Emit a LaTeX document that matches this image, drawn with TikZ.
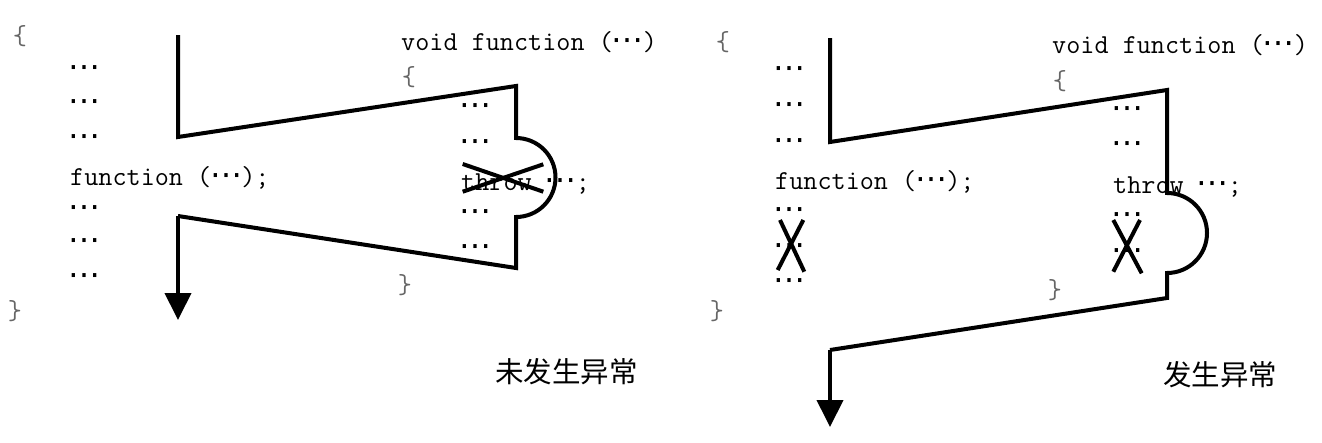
\documentclass[tikz,border=0pt]{standalone}
\usepackage{fontspec}
\newfontfamily\cjk{Noto Sans CJK SC}
\newfontfamily\dvs{DejaVu Sans}
\usetikzlibrary{arrows.meta}
\newcommand\elp{\makebox[30pt][c]{\dvs\fontsize{32}{32}\selectfont ⋯}}
\begin{document}
\begin{tikzpicture}[x=1pt,y=-1pt,
  code/.style={font=\ttfamily\fontsize{27.4}{27.4}\selectfont, inner sep=0pt, anchor=base west},
  dts/.style={inner sep=0pt, anchor=west},
  brc/.style={font=\ttfamily\fontsize{27.4}{27.4}\selectfont, inner sep=0pt, text=black!60},
  flow/.style={line width=4pt, line join=miter},
  xmark/.style={line width=4pt},
  lbl/.style={font=\cjk\fontsize{28.5}{28.5}\selectfont, inner sep=0pt, anchor=west},
  tip/.style={-{Triangle[width=26pt,length=27pt]}}]
\useasboundingbox (0,0) rectangle (1322,442);

% ---------------- left panel: no exception ----------------
\node[brc] (lob) at (20,36) {\{};
\node[dts] (l1) at (69,72) {\elp};
\node[dts] (l2) at (69,106) {\elp};
\node[dts] (l3) at (69,140.5) {\elp};
\node[code] (lcall) at (70,185) {function (\elp);};
\node[dts] (l4) at (69,211.5) {\elp};
\node[dts] (l5) at (69,245) {\elp};
\node[dts] (l6) at (69,280) {\elp};
\node[brc] (lcb) at (15,311.5) {\}};

\node[code] (lsig) at (401,50) {void function (\elp)};
\node[brc] (lfob) at (409,77) {\{};
\node[dts] (lf1) at (460,110) {\elp};
\node[dts] (lf2) at (460,146) {\elp};
\node[code] (lthrow) at (461,190) {throw \elp;};
\node[dts] (lf3) at (460,216) {\elp};
\node[dts] (lf4) at (460,251) {\elp};
\node[brc] (lfcb) at (405,285) {\}};

\node[lbl] (lab1) at (495,372) {未发生异常};

\coordinate (a1) at (178,35);
\coordinate (a2) at (178,137);
\coordinate (a3) at (516,86);
\coordinate (a4) at (516,138);
\coordinate (a6) at (516,268);
\coordinate (a7) at (178,216);
\coordinate (a8) at (178,320);
\draw[flow] (a1) -- (a2) -- (a3) -- (a4)
  arc[start angle=-90, end angle=90, radius=39.5] -- (a6) -- (a7);
\draw[flow,tip] (a7) -- (a8);

\coordinate (x1a) at (462.7,164);
\coordinate (x1b) at (543.3,191.7);
\coordinate (x1c) at (462.7,191.7);
\coordinate (x1d) at (543.3,164.3);
\draw[xmark] (x1a) -- (x1b);
\draw[xmark] (x1c) -- (x1d);

% ---------------- right panel: exception ----------------
\node[brc] (rob) at (723,42) {\{};
\node[dts] (r1) at (774,73) {\elp};
\node[dts] (r2) at (774,109) {\elp};
\node[dts] (r3) at (774,145) {\elp};
\node[code] (rcall) at (775,189) {function (\elp);};
\node[dts] (r4) at (774,214) {\elp};
\node[dts] (r5) at (774,250) {\elp};
\node[dts] (r6) at (774,285) {\elp};
\node[brc] (rcb) at (717,311) {\}};

\node[code] (rsig) at (1052,53) {void function (\elp)};
\node[brc] (rfob) at (1060,81) {\{};
\node[dts] (rf1) at (1112,113) {\elp};
\node[dts] (rf2) at (1112,148) {\elp};
\node[code] (rthrow) at (1113,193) {throw \elp;};
\node[dts] (rf3) at (1112,219) {\elp};
\node[dts] (rf4) at (1112,255) {\elp};
\node[brc] (rfcb) at (1055,290) {\}};

\node[lbl] (lab2) at (1163,375) {发生异常};

\coordinate (b1) at (830,38);
\coordinate (b2) at (830,142);
\coordinate (b3) at (1167,90);
\coordinate (b4) at (1167,193);
\coordinate (b6) at (1167,298);
\coordinate (b7) at (830,350);
\coordinate (b8) at (830,427);
\draw[flow] (b1) -- (b2) -- (b3) -- (b4)
  arc[start angle=-90, end angle=90, radius=40] -- (b6) -- (b7);
\draw[flow,tip] (b7) -- (b8);

\coordinate (x2a) at (803.3,220);
\coordinate (x2b) at (777.7,270);
\coordinate (x2c) at (780,220);
\coordinate (x2d) at (804.3,271.7);
\draw[xmark] (x2a) -- (x2b);
\draw[xmark] (x2c) -- (x2d);

\coordinate (x3a) at (1113.3,220);
\coordinate (x3b) at (1141.7,273.3);
\coordinate (x3c) at (1140,220);
\coordinate (x3d) at (1113.3,271.7);
\draw[xmark] (x3a) -- (x3b);
\draw[xmark] (x3c) -- (x3d);
\end{tikzpicture}
\end{document}
